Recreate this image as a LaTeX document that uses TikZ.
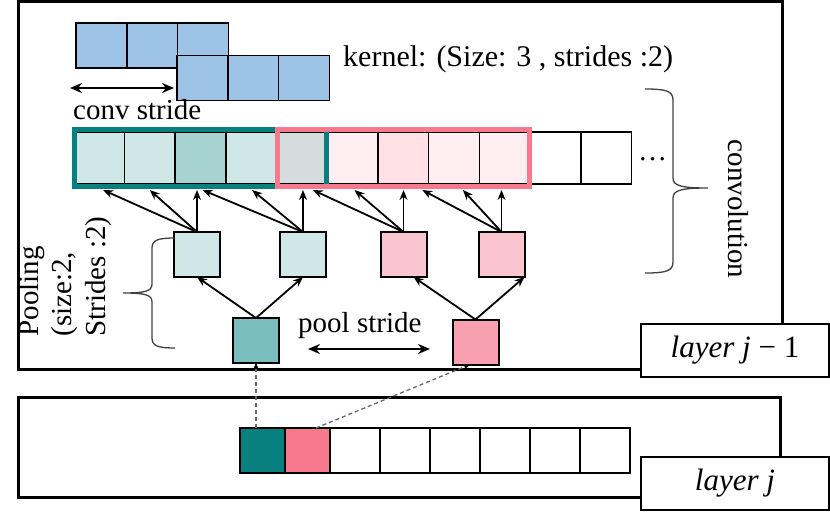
\documentclass[tikz,border=0pt]{standalone}
\usepackage{fontspec}
\setmainfont{Liberation Serif}
\usetikzlibrary{arrows.meta,calc,fit}
\definecolor{kblue}{RGB}{157,195,230}
\definecolor{tlight}{RGB}{208,231,232}
\definecolor{tdark}{RGB}{166,210,210}
\definecolor{gcell}{RGB}{214,219,222}
\definecolor{plight}{RGB}{255,238,241}
\definecolor{pmid}{RGB}{255,224,229}
\definecolor{pboxc}{RGB}{250,197,206}
\definecolor{tbox2}{RGB}{122,190,190}
\definecolor{pbox2}{RGB}{249,160,176}
\definecolor{tealF}{RGB}{8,128,128}
\definecolor{pinkF}{RGB}{246,121,141}
\begin{document}
\begin{tikzpicture}[x=1pt,y=-1pt,
  cell/.style={draw=black, line width=1.6pt, minimum width=50.7pt, minimum height=52pt, inner sep=0pt, outer sep=0pt},
  kcell/.style={draw=black, line width=1.8pt, fill=kblue, minimum width=51pt, minimum height=45pt, inner sep=0pt, outer sep=0pt},
  lcell/.style={draw=black, line width=1.8pt, minimum height=45pt, inner sep=0pt, outer sep=0pt},
  poolbox/.style={draw=black, line width=2pt, minimum width=46pt, minimum height=45pt, inner sep=0pt, outer sep=0pt},
  frame/.style={line width=3pt, draw=black},
  layerbox/.style={draw=black, line width=2pt, fill=white, minimum width=188pt, minimum height=53pt, inner sep=0pt, font=\fontsize{31}{34}\selectfont},
  lbl/.style={inner sep=0pt, font=\fontsize{29}{33.5}\selectfont},
  arr/.style={line width=1.8pt, -{Stealth[length=10pt,width=8pt]}},
  dbl/.style={line width=2pt, {Stealth[length=12pt,width=10pt]}-{Stealth[length=12pt,width=10pt]}},
  dashline/.style={draw=black!60, line width=1.3pt, dash pattern=on 4pt off 3pt, -{Stealth[length=8pt,width=7pt,color=black]}},
  brace/.style={draw=black!75, line width=1.3pt}
]
\useasboundingbox (0,0) rectangle (830,515);
% outer layer frames
\draw[frame] (18,1.5) rectangle (782,369);
\draw[frame] (18,397) rectangle (780,497);

% kernel
\node[kcell] (k1) at (101.5,45.5) {};
\node[kcell] (k2) at (152.5,45.5) {};
\node[kcell] (k3) at (203,45.5) {};
\node[kcell] (k4) at (202.5,78) {};
\node[kcell] (k5) at (253.5,78) {};
\node[kcell] (k6) at (304,78) {};
\coordinate (csl) at (70,88);
\coordinate (csr) at (174,88);
\draw[dbl] (csl) -- (csr);
\node[lbl, anchor=base west] (cst) at (73,119) {conv stride};
\node[lbl, anchor=base west, font=\fontsize{30}{34}\selectfont] (ktx) at (343,66) {kernel: (Size: 3 , strides :2)};

% convolution row
\foreach \i/\col in {0/tlight,1/tlight,2/tdark,3/tlight,4/gcell,5/plight,6/pmid,7/plight,8/plight,9/white,10/white}{
  \node[cell, fill=\col] (c\i) at ({99.05+50.7*\i},158) {};
}
\node[fit=(c0)(c4), inner xsep=-1pt, inner ysep=2.5pt, draw=tealF, line width=5pt] (tf) {};
\node[fit=(c4)(c8), inner xsep=-1pt, inner ysep=2.5pt, draw=pinkF, line width=5pt] (pf) {};
\node[lbl, anchor=base west] (dots) at (638,160) {…};

% convolution brace
\draw[brace] (645,89) .. controls (666,89) and (673,91) .. (673,100) -- (673,178)
  .. controls (673,186) and (682,188) .. (708,188)
  .. controls (682,188) and (673,190) .. (673,198) -- (673,262)
  .. controls (673,271) and (666,273) .. (645,273);
\node[lbl, rotate=-90] (convl) at (738,209) {convolution};

% pooling level 1
\node[poolbox, fill=tlight] (b1) at (197,254.5) {};
\node[poolbox, fill=tlight] (b2) at (303,254.5) {};
\node[poolbox, fill=pboxc] (b3) at (403.5,254.5) {};
\node[poolbox, fill=pboxc] (b4) at (501.5,254.5) {};

\draw[arr] (b1.north) -- ($(c0.south)+(4,6)$);
\draw[arr] (b1.north) -- ($(c1.south)+(0,6)$);
\draw[arr] (b1.north) -- ($(b1.north |- c2.south)+(0,6)$);
\draw[arr] (b2.north) -- ($(c2.south)+(2,6)$);
\draw[arr] (b2.north) -- ($(c3.south)+(1,6)$);
\draw[arr] (b2.north) -- ($(b2.north |- c4.south)+(0,6)$);
\draw[arr] (b3.north) -- ($(c4.south)+(11,6)$);
\draw[arr] (b3.north) -- ($(c5.south)+(2,6)$);
\draw[arr] (b3.north) -- ($(b3.north |- c6.south)+(0,6)$);
\draw[arr] (b4.north) -- ($(c6.south)+(19,6)$);
\draw[arr] (b4.north) -- ($(c7.south)+(9,6)$);
\draw[arr] (b4.north) -- ($(b4.north |- c8.south)+(0,6)$);

% pooling level 2
\node[poolbox, fill=tbox2] (t2) at (256,340.5) {};
\node[poolbox, fill=pbox2] (p2) at (475.5,342) {};
\draw[arr] (t2.north) -- (b1.south);
\draw[arr] (t2.north) -- (b2.south);
\draw[arr] (p2.north) -- ($(b3.south)+(10,0)$);
\draw[arr] (p2.north) -- (b4.south east);

\coordinate (psl) at (308,349);
\coordinate (psr) at (430,349);
\draw[dbl] (psl) -- (psr);
\node[lbl, anchor=base west] (pst) at (298,332) {pool stride};

% pooling brace
\draw[brace] (175,238) .. controls (158,238) and (152,240) .. (152,248) -- (152,284)
  .. controls (152,291) and (146,293) .. (123,293)
  .. controls (146,293) and (152,295) .. (152,302) -- (152,338)
  .. controls (152,346) and (158,348) .. (175,348);
\node[lbl, rotate=90, align=left] (pooll) at (65,276.5) {Pooling\\(size:2,\\Strides :2)};

% layer j row
\node[lcell, fill=tealF, minimum width=45pt] (l0) at (262.5,450.5) {};
\node[lcell, fill=pinkF, minimum width=45pt] (l1) at (307.5,450.5) {};
\foreach \i in {2,...,7}{
  \node[lcell, fill=white, minimum width=50pt] (l\i) at ({255+50*\i},450.5) {};
}
\draw[dashline] ($(l0.north)+(-6.5,0)$) -- (t2.south);
\draw[dashline] ($(l1.north)+(8.5,0)$) -- ($(p2.south)+(-5.5,0)$);

% layer labels
\node[layerbox] (lj1) at (735,350.5) {\itshape layer j \upshape − 1};
\node[layerbox] (lj) at (735,483) {\itshape layer j};
\end{tikzpicture}
\end{document}
